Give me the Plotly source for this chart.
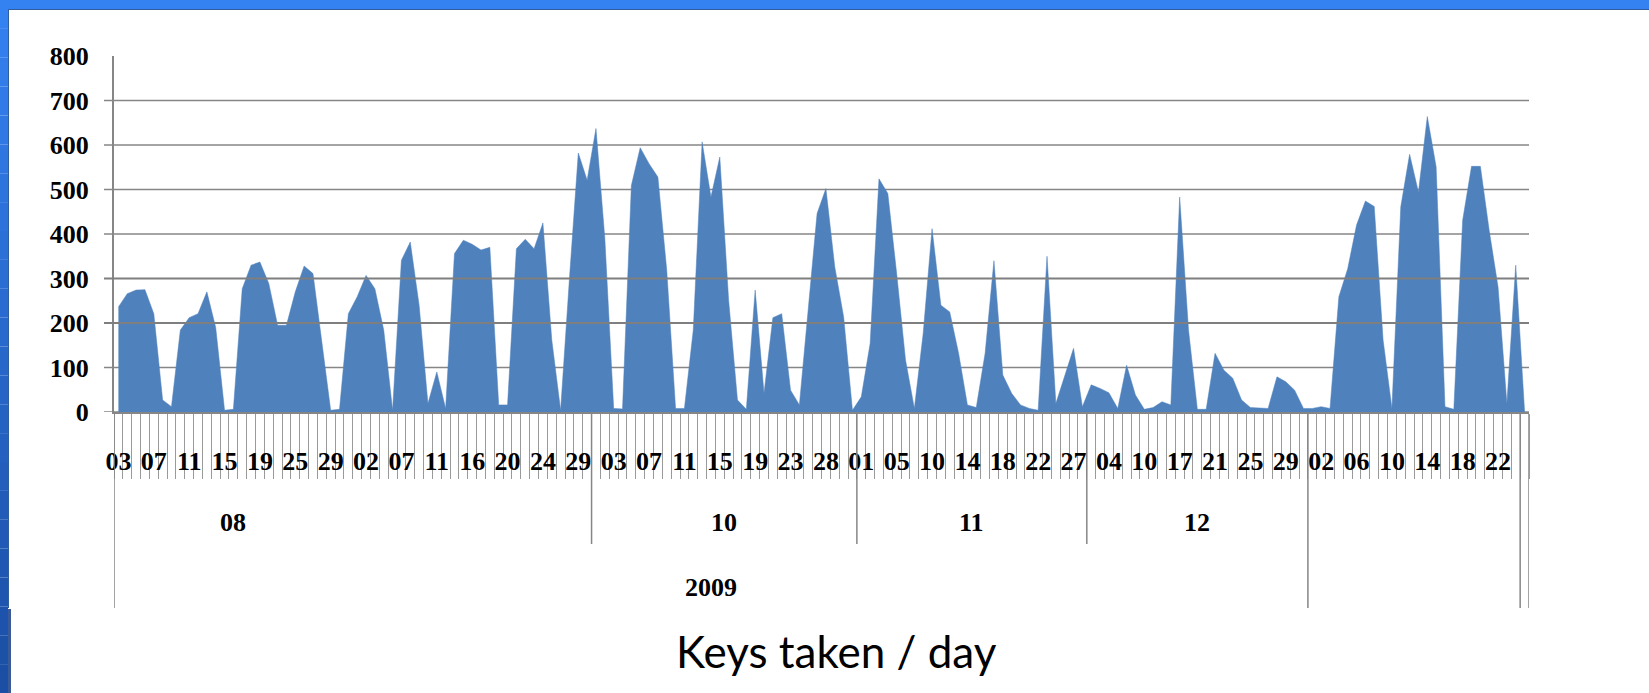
import plotly.graph_objects as go

# Canvas and plot-area geometry (pixels)
W, H = 1649, 693
ML, MR, MT, MB = 114, 120, 56, 281
PW, PH = W - ML - MR, H - MT - MB


def px(x):
    """pixel x -> paper x"""
    return (x - ML) / PW


def py(y):
    """pixel y (from top) -> paper y"""
    return (H - MB - y) / PH


# Days with data, by month
aug_2009 = [3, 4, 5, 6, 7, 8, 9, 10, 11, 12, 13, 14, 15, 16, 17, 18, 19, 20, 21,
            24, 25, 26, 27, 28, 29, 30, 31]
sep_2009 = [1, 2, 3, 4, 5, 7, 8, 9, 10, 11, 12, 14, 15, 16, 17, 18, 19, 20, 21,
            22, 23, 24, 25, 26, 28, 29, 30]
oct_2009 = list(range(1, 25)) + [26, 27, 28, 29, 30, 31]
nov_2009 = [1, 2, 3, 4, 5, 6, 7] + list(range(9, 25)) + [26, 27, 30]
dec_2009 = [1, 3, 4, 7, 8, 9, 10, 11, 14, 15] + list(range(17, 32))
jan_2010 = list(range(1, 25))

# Keys taken per day (last category is the empty pivot item)
keys_taken = [
    236, 266, 274, 275, 221, 27, 12, 184, 212, 221,
    270, 190, 4, 6, 277, 330, 337, 289, 195, 195,
    270, 328, 311, 162, 4, 6, 221, 259, 307, 277,
    184, 4, 341, 382, 240, 19, 90, 8, 356, 386,
    377, 364, 370, 16, 16, 367, 388, 367, 425, 162,
    4, 300, 582, 521, 637, 390, 8, 7, 509, 594,
    558, 528, 319, 8, 8, 184, 607, 483, 573, 251,
    27, 6, 274, 42, 212, 221, 49, 16, 236, 446,
    502, 326, 214, 4, 34, 154, 524, 491, 311, 117,
    8, 177, 412, 240, 225, 132, 16, 10, 132, 340,
    83, 42, 16, 8, 4, 350, 19, 79, 143, 12,
    61, 53, 43, 8, 105, 38, 6, 10, 23, 16,
    483, 184, 6, 6, 132, 94, 76, 27, 10, 9,
    8, 79, 68, 49, 8, 8, 12, 8, 259, 322,
    420, 474, 462, 162, 8, 461, 579, 494, 664, 551,
    12, 6, 431, 552, 552, 408, 281, 19, 330, 1,
]

day_labels = [f"{d:02d}" for d in aug_2009 + sep_2009 + oct_2009 + nov_2009 + dec_2009 + jan_2010] + [""]

# Outer category levels: (label, first index, last index)
month_groups = [("08", 0, 26), ("10", 54, 83), ("11", 84, 109), ("12", 110, 134)]
month_breaks = [54, 84, 110]
year_groups = [("2009", 0, 134)]
year_breaks = [0, 135, 159, 160]

y_ticks = [0, 100, 200, 300, 400, 500, 600, 700, 800]

n = len(keys_taken)
x = list(range(n))
tick_idx = [i for i in range(0, n, 4) if day_labels[i]]

AXIS_GREY = "#868686"
LABEL_FONT = dict(family="Liberation Serif", size=26, color="black", weight="bold")

fig = go.Figure()
fig.add_trace(go.Scatter(
    x=x, y=keys_taken, mode="lines", fill="tozeroy",
    fillcolor="#4f81bd", line=dict(color="#4f81bd", width=0.5),
    hoverinfo="skip", showlegend=False,
))

shapes = []
# Horizontal gridlines with small outside tick stubs
for v in y_ticks[:-1]:
    above = v in (200, 300)
    shapes.append(dict(
        type="line", xref="paper", yref="y", x0=px(ML - 10), x1=1, y0=v, y1=v,
        line=dict(color="#7f7f7f" if above else AXIS_GREY, width=2 if above else 1.4),
        layer="above" if above else "below",
    ))

# Month and year separators under the axis
for b in month_breaks:
    shapes.append(dict(type="line", xref="x", yref="paper", x0=b - 0.5, x1=b - 0.5,
                       y0=0, y1=py(544), line=dict(color=AXIS_GREY, width=1.5)))
for b in year_breaks:
    shapes.append(dict(type="line", xref="x", yref="paper", x0=b - 0.5, x1=b - 0.5,
                       y0=0, y1=py(608), line=dict(color=AXIS_GREY, width=1.5)))

# Slide frame: top bar and left bar
shapes.append(dict(type="rect", xref="paper", yref="paper", x0=px(0), x1=px(W),
                   y0=py(9), y1=py(0), fillcolor="#3481f1", line=dict(width=0), layer="above"))
shapes.append(dict(type="line", xref="paper", yref="paper", x0=px(8), x1=px(W),
                   y0=py(9.5), y1=py(9.5), line=dict(color="#2f5d9e", width=1), layer="above"))
top_rgb, bot_rgb = (52, 129, 241), (27, 79, 165)
steps = 24
for k in range(steps):
    t = k / (steps - 1)
    c = tuple(round(a + (b - a) * t) for a, b in zip(top_rgb, bot_rgb))
    y0, y1 = H * k / steps, H * (k + 1) / steps
    shapes.append(dict(type="rect", xref="paper", yref="paper", x0=px(0), x1=px(8),
                       y0=py(y1), y1=py(y0), fillcolor="rgb(%d,%d,%d)" % c,
                       line=dict(width=0), layer="above"))
shapes.append(dict(type="line", xref="paper", yref="paper", x0=px(8.5), x1=px(8.5),
                   y0=py(608), y1=py(9), line=dict(color="#2f5d9e", width=1), layer="above"))
shapes.append(dict(type="rect", xref="paper", yref="paper", x0=px(8), x1=px(11),
                   y0=py(H), y1=py(609), fillcolor="#3b5b98", line=dict(width=0), layer="above"))

annotations = []
for label, a, b in month_groups:
    annotations.append(dict(x=(a + b) / 2, y=py(522), xref="x", yref="paper", text=label,
                            showarrow=False, font=LABEL_FONT, xanchor="center", yanchor="middle"))
for label, a, b in year_groups:
    annotations.append(dict(x=(a + b) / 2, y=py(587), xref="x", yref="paper", text=label,
                            showarrow=False, font=LABEL_FONT, xanchor="center", yanchor="middle"))
annotations.append(dict(x=px(837), y=py(651), xref="paper", yref="paper",
                        text="Keys taken / day", showarrow=False,
                        font=dict(family="Lato", size=44, color="black"),
                        xanchor="center", yanchor="middle"))

fig.update_layout(
    width=W, height=H,
    margin=dict(l=ML, r=MR, t=MT, b=MB, pad=0),
    paper_bgcolor="white", plot_bgcolor="white",
    shapes=shapes, annotations=annotations,
    showlegend=False,
    xaxis=dict(
        range=[-0.5, n - 0.5], showgrid=False, zeroline=False,
        showline=True, linecolor=AXIS_GREY, linewidth=1.5,
        tickmode="array", tickvals=tick_idx, ticktext=[day_labels[i] for i in tick_idx],
        ticks="", ticklabelstandoff=25, tickangle=0, tickfont=LABEL_FONT,
        minor=dict(ticks="outside", ticklen=65, tickwidth=1, tickcolor="#9a9a9a",
                   tickmode="array", tickvals=[i - 0.5 for i in range(n + 1)], showgrid=False),
    ),
    yaxis=dict(
        range=[0, 800], showgrid=False, zeroline=False,
        showline=True, linecolor=AXIS_GREY, linewidth=2,
        tickmode="array", tickvals=y_ticks, ticktext=[str(v) for v in y_ticks],
        ticks="", ticklabelstandoff=18,
        tickfont=dict(family="Liberation Serif", size=26, color="black", weight="bold"),
    ),
)

fig.write_html("out.html")
